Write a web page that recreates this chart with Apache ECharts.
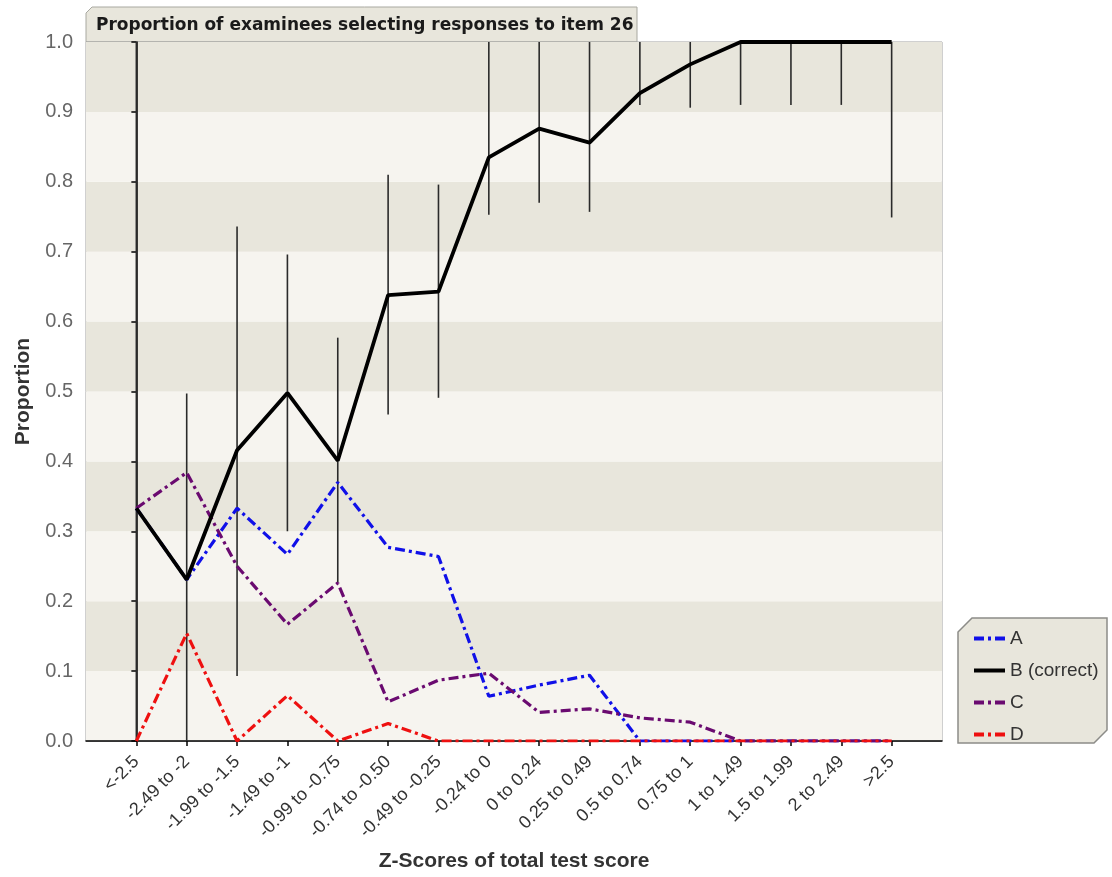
<!DOCTYPE html>
<html>
<head>
<meta charset="utf-8">
<script src="https://cdn.jsdelivr.net/npm/echarts@6/dist/echarts.min.js"></script>
<style>html,body{margin:0;padding:0;background:#fff}#c{width:1112px;height:877px}</style>
</head>
<body>
<div id="c"></div>
<script>
const categories = ['<-2.5','-2.49 to -2','-1.99 to -1.5','-1.49 to -1','-0.99 to -0.75','-0.74 to -0.50','-0.49 to -0.25','-0.24 to 0','0 to 0.24','0.25 to 0.49','0.5 to 0.74','0.75 to 1','1 to 1.49','1.5 to 1.99','2 to 2.49','>2.5'];
const seriesA = [0.333,0.231,0.333,0.267,0.370,0.277,0.264,0.064,0.080,0.094,0,0,0,0,0,0];
const seriesB = [0.333,0.231,0.416,0.498,0.401,0.638,0.643,0.835,0.876,0.856,0.927,0.968,1,1,1,1];
const seriesC = [0.333,0.384,0.250,0.167,0.226,0.056,0.087,0.097,0.041,0.046,0.033,0.027,0,0,0,0];
const seriesD = [0,0.154,0,0.065,0,0.025,0,0,0,0,0,0,0,0,0,0];
const errLow  = [0,0,0.093,0.300,0.227,0.467,0.491,0.753,0.770,0.757,0.910,0.906,0.910,0.910,0.910,0.749];
const errHigh = [1,0.497,0.736,0.696,0.577,0.810,0.796,1,1,1,1,1,1,1,1,1];
const yTicks = [0,0.1,0.2,0.3,0.4,0.5,0.6,0.7,0.8,0.9,1.0];

const idx = categories.map((_, i) => i);
const pts = arr => arr.map((v, i) => [i, v]);
const dashDot = [10, 4, 3, 4];

const chart = echarts.init(document.getElementById('c'), null, {renderer: 'canvas'});
chart.setOption({
  backgroundColor: '#ffffff',
  animation: false,
  title: {
    text: 'Proportion of examinees selecting responses to item 26',
    left: 91, top: 12,
    textStyle: {fontFamily: 'DejaVu Sans', fontWeight: 'bold', fontSize: 17, color: '#1a1a1a'}
  },
  graphic: [
    {type: 'polygon', z: -1, shape: {points: [[86,42],[86,13],[92,7],[637,7],[637,42]]},
     style: {fill: '#e8e6dc', stroke: '#a8a8a0', lineWidth: 1}},
    {type: 'polygon', z: -1, shape: {points: [[958,743],[958,632],[972,618],[1107,618],[1107,730],[1094,743]]},
     style: {fill: '#e8e6dc', stroke: '#8c8c88', lineWidth: 1.5}}
  ],
  grid: {left: 86, top: 42, right: 170, bottom: 135, show: true, borderColor: '#a0a0a0', borderWidth: 1, backgroundColor: 'transparent'},
  legend: {
    orient: 'vertical', left: 972, top: 629, itemWidth: 31, itemHeight: 16, itemGap: 13, padding: 0,
    selectedMode: false,
    itemStyle: {opacity: 0},
    lineStyle: {width: 4},
    textStyle: {fontFamily: 'Liberation Sans', fontSize: 19, color: '#333'},
    data: ['A', 'B (correct)', 'C', 'D']
  },
  xAxis: {
    type: 'value', min: -1, max: 16, interval: 1,
    axisLine: {show: true, lineStyle: {color: '#000', width: 1.5}},
    axisTick: {show: true, length: 5, customValues: idx, lineStyle: {color: '#000', width: 1.5}},
    axisLabel: {
      customValues: idx, rotate: 45, margin: 18,
      fontFamily: 'Liberation Sans', fontSize: 18, color: '#333',
      formatter: v => categories[v] !== undefined ? categories[v] : ''
    },
    splitLine: {show: false},
    name: 'Z-Scores of total test score', nameLocation: 'middle', nameGap: 110,
    nameTextStyle: {fontFamily: 'Liberation Sans', fontWeight: 'bold', fontSize: 21, color: '#333'}
  },
  yAxis: {
    type: 'value', min: 0, max: 1, interval: 0.1,
    axisLine: {show: true, lineStyle: {color: '#000', width: 1.5}},
    axisTick: {show: true, length: 5, lineStyle: {color: '#000', width: 1.5}},
    axisLabel: {margin: 13, fontFamily: 'Liberation Sans', fontSize: 20, color: '#666',
      formatter: v => v.toFixed(1)},
    splitLine: {show: false},
    splitArea: {show: true, areaStyle: {color: ['#f6f4ef', '#e8e6dc']}},
    name: 'Proportion', nameLocation: 'middle', nameGap: 52,
    nameTextStyle: {fontFamily: 'Liberation Sans', fontWeight: 'bold', fontSize: 21, color: '#333'}
  },
  series: [
    {
      type: 'custom', name: 'err', silent: true, z: 1,
      data: errLow.map((lo, i) => [i, lo, errHigh[i]]),
      encode: {x: 0, y: [1, 2]},
      renderItem: (params, api) => {
        const p1 = api.coord([api.value(0), api.value(1)]);
        const p2 = api.coord([api.value(0), api.value(2)]);
        return {type: 'line', shape: {x1: p1[0], y1: p1[1], x2: p2[0], y2: p2[1]},
          style: {stroke: '#2a2a2a', lineWidth: 1.6}};
      }
    },
    {type: 'line', name: 'A', data: pts(seriesA), symbol: 'none', z: 2,
     lineStyle: {color: '#1010e8', width: 3.2, type: dashDot}, itemStyle: {color: '#1010e8'}},
    {type: 'line', name: 'C', data: pts(seriesC), symbol: 'none', z: 3,
     lineStyle: {color: '#6a0a70', width: 3.2, type: dashDot}, itemStyle: {color: '#6a0a70'}},
    {type: 'line', name: 'D', data: pts(seriesD), symbol: 'none', z: 4,
     lineStyle: {color: '#ee1010', width: 3.2, type: dashDot}, itemStyle: {color: '#ee1010'}},
    {type: 'line', name: 'B (correct)', data: pts(seriesB), symbol: 'none', z: 5,
     lineStyle: {color: '#000', width: 3.8}, itemStyle: {color: '#000'}}
  ]
});
</script>
</body>
</html>
